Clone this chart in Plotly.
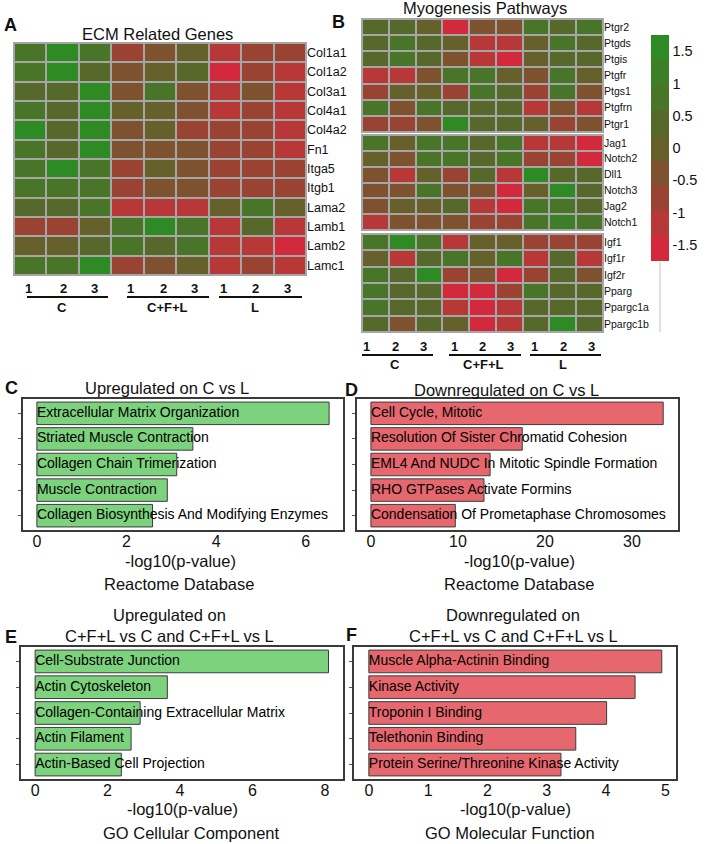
import plotly.graph_objects as go

W, H = 705, 844
FONT = "Arial, Liberation Sans, sans-serif"

# ---------------- data ----------------
samples = ["C-1", "C-2", "C-3", "CFL-1", "CFL-2", "CFL-3", "L-1", "L-2", "L-3"]
sample_nums = ["1", "2", "3", "1", "2", "3", "1", "2", "3"]
groups = ["C", "C+F+L", "L"]

ecm_genes = ["Col1a1", "Col1a2", "Col3a1", "Col4a1", "Col4a2", "Fn1", "Itga5",
             "Itgb1", "Lama2", "Lamb1", "Lamb2", "Lamc1"]
ecm_values = [
    [0.8, 1.6, 0.9, -0.8, -0.4, 0.0, -1.2, -0.8, -0.7],
    [0.8, 1.5, 0.5, -0.4, 0.1, 0.3, -1.6, -0.9, -1.2],
    [0.5, 0.5, 1.5, -0.4, 0.8, -0.4, -1.2, -0.5, -1.2],
    [0.7, 0.2, 1.5, 0.1, 0.1, -0.4, -1.2, -0.9, -1.3],
    [1.4, 0.2, 1.4, -0.4, 0.1, -0.9, -0.9, -0.9, -1.3],
    [0.7, 0.5, 1.4, -0.4, -0.4, -0.4, -0.9, -0.9, -1.3],
    [0.8, 1.5, 0.7, -0.9, 0.1, -0.4, -0.9, -0.9, -0.8],
    [0.9, 0.9, 0.9, -0.9, -0.4, -0.2, -0.9, -0.9, -0.8],
    [0.5, 0.5, 0.9, -1.2, -1.2, -1.2, 0.1, 0.7, 0.1],
    [-0.9, -0.9, 0.1, 0.8, 1.5, 0.6, -1.2, 0.2, -1.2],
    [0.1, -0.1, 0.2, 0.8, 0.4, 0.9, -1.2, -1.2, -1.6],
    [0.8, 0.8, 1.5, -0.9, -0.4, 0.0, -1.2, -0.8, -1.2],
]

ptg_genes = ["Ptgr2", "Ptgds", "Ptgis", "Ptgfr", "Ptgs1", "Ptgfrn", "Ptgr1"]
ptg_values = [
    [0.2, 0.2, 0.1, -1.6, -0.4, -0.4, 0.7, 0.3, 0.6],
    [0.2, 0.6, 0.2, 0.0, -1.2, -1.2, 0.1, 0.6, 0.2],
    [0.2, 0.9, 0.2, -0.4, -1.2, -1.6, 0.1, 0.2, 0.3],
    [-1.2, -1.2, -0.4, 0.6, 0.8, 0.1, -0.4, 0.9, 0.1],
    [-0.9, 0.1, 0.1, -0.9, 0.8, 0.4, -0.9, 0.9, -0.5],
    [0.6, -0.4, 0.9, 0.2, 0.4, 0.2, -1.2, -0.5, -1.1],
    [-0.9, -0.9, -0.5, 1.5, 0.4, 0.2, 0.1, -0.9, -0.5],
]
notch_genes = ["Jag1", "Notch2", "Dll1", "Notch3", "Jag2", "Notch1"]
notch_values = [
    [0.6, 0.1, 0.6, 0.6, 0.2, 0.8, -1.2, -1.2, -1.6],
    [0.1, -0.4, 0.6, 0.6, 0.4, 0.7, -0.9, -0.9, -1.6],
    [-0.5, -1.2, 0.0, -0.8, 0.4, -1.1, 1.5, 0.4, 0.5],
    [-0.5, -0.5, 0.7, -0.5, -0.5, -1.6, 0.1, 1.4, 0.3],
    [-0.4, 0.0, 0.1, 0.2, -1.1, -1.6, 0.6, 0.6, 0.5],
    [-1.3, -0.5, -0.5, -0.5, -0.8, -0.8, 0.8, 1.1, 0.7],
]
igf_genes = ["Igf1", "Igf1r", "Igf2r", "Pparg", "Ppargc1a", "Ppargc1b"]
igf_values = [
    [0.8, 1.4, 0.6, -1.1, 0.1, 0.0, -0.9, -0.9, -0.9],
    [0.0, -1.2, 0.2, 0.7, 0.1, 0.8, -1.2, 0.2, -1.2],
    [0.6, 0.3, 1.4, -0.8, -0.5, -1.6, -0.8, 0.5, -0.4],
    [0.6, 0.4, 0.2, -1.6, -1.6, -0.9, 0.6, 0.5, 0.4],
    [0.6, 0.5, 0.3, -1.1, -1.5, -1.2, 0.3, 0.5, 0.5],
    [0.2, -0.4, 0.3, 0.1, -1.6, -1.2, 0.4, 1.4, 0.3],
]
cbar_ticks = [-1.5, -1, -0.5, 0, 0.5, 1, 1.5]

c_terms = ["Extracellular Matrix Organization", "Striated Muscle Contraction",
           "Collagen Chain Trimerization", "Muscle Contraction",
           "Collagen Biosynthesis And Modifying Enzymes"]
c_values = [6.52, 3.48, 3.12, 2.91, 2.58]
d_terms = ["Cell Cycle, Mitotic", "Resolution Of Sister Chromatid Cohesion",
           "EML4 And NUDC In Mitotic Spindle Formation", "RHO GTPases Activate Formins",
           "Condensation Of Prometaphase Chromosomes"]
d_values = [33.6, 17.4, 13.7, 13.0, 9.7]
e_terms = ["Cell-Substrate Junction", "Actin Cytoskeleton",
           "Collagen-Containing Extracellular Matrix", "Actin Filament",
           "Actin-Based Cell Projection"]
e_values = [8.1, 3.65, 2.9, 2.65, 2.38]
f_terms = ["Muscle Alpha-Actinin Binding", "Kinase Activity", "Troponin I Binding",
           "Telethonin Binding", "Protein Serine/Threonine Kinase Activity"]
f_values = [4.94, 4.49, 4.01, 3.49, 3.24]

# ---------------- helpers ----------------
def X(px):
    return px / W


def Y(py):
    return 1 - py / H


band_colors = ["#D22A3C", "#B83838", "#9A4332", "#7E522E", "#66602B",
               "#56692A", "#497529", "#3C7F27", "#2E8A22"]
ZMIN, ZMAX = -1.75, 1.75
cscale = []
for i, c in enumerate(band_colors):
    cscale.append([i / 9, c])
    cscale.append([(i + 1) / 9, c])

fig = go.Figure()
annotations = []
shapes = []


def heat(z, genes, xa, ya, showscale=False):
    tr = go.Heatmap(z=z, x=samples, y=genes, xaxis=xa, yaxis=ya,
                    colorscale=cscale, zmin=ZMIN, zmax=ZMAX, xgap=2, ygap=2,
                    showscale=showscale, hoverinfo="skip")
    if showscale:
        tr.colorbar = dict(x=X(651), xanchor="left", xpad=0, ypad=0, thickness=18,
                           lenmode="fraction", len=(261 - 35) / H,
                           y=Y((35 + 261) / 2), yanchor="middle",
                           outlinewidth=0, ticks="", tickvals=cbar_ticks,
                           ticktext=[str(t) for t in cbar_ticks],
                           tickfont=dict(size=14.5, family=FONT, color="#111"))
    fig.add_trace(tr)


# Heatmap A
heat(ecm_values, ecm_genes, "x", "y")
# Heatmap B blocks
heat(ptg_values, ptg_genes, "x2", "y2")
heat(notch_values, notch_genes, "x3", "y3")
heat(igf_values, igf_genes, "x4", "y4", showscale=True)

hx_common = dict(showticklabels=False, ticks="", showgrid=False, zeroline=False,
                 showline=False)
hy_common = dict(side="right", autorange="reversed", ticks="", showgrid=False,
                 zeroline=False, showline=False)

lay = dict(
    xaxis=dict(domain=[X(14), X(306)], anchor="y", **hx_common),
    yaxis=dict(domain=[Y(275), Y(43)], anchor="x",
               tickfont=dict(size=12.5, family=FONT, color="#111"), **hy_common),
    xaxis2=dict(domain=[X(362), X(603)], anchor="y2", **hx_common),
    yaxis2=dict(domain=[Y(132), Y(19)], anchor="x2",
                tickfont=dict(size=10.5, family=FONT, color="#111"), **hy_common),
    xaxis3=dict(domain=[X(362), X(603)], anchor="y3", **hx_common),
    yaxis3=dict(domain=[Y(230), Y(135)], anchor="x3",
                tickfont=dict(size=10.5, family=FONT, color="#111"), **hy_common),
    xaxis4=dict(domain=[X(362), X(603)], anchor="y4", **hx_common),
    yaxis4=dict(domain=[Y(332), Y(234)], anchor="x4",
                tickfont=dict(size=10.5, family=FONT, color="#111"), **hy_common),
)

# gray grid backdrops
for (x0, x1, y0, y1) in [(13, 307, 42, 276), (361, 604, 18, 133),
                         (361, 604, 134, 231), (361, 604, 233, 333)]:
    shapes.append(dict(type="rect", xref="paper", yref="paper", x0=X(x0), x1=X(x1),
                       y0=Y(y1), y1=Y(y0), fillcolor="#A6A6A6", line=dict(width=0),
                       layer="below"))
# thin line under colorbar
shapes.append(dict(type="line", xref="paper", yref="paper", x0=X(660), x1=X(660),
                   y0=Y(332), y1=Y(262), line=dict(color="#c4bcc6", width=1)))


def txt(x, y, s, size, bold=False):
    annotations.append(dict(x=X(x), y=Y(y), xref="paper", yref="paper",
                            xanchor="center", yanchor="middle",
                            text=(f"<b>{s}</b>" if bold else s), showarrow=False,
                            font=dict(size=size, family=FONT, color="#111")))


# group labels for heatmaps
def group_labels(num_x, lines, grp_x, y_num, y_line, y_grp):
    for nx, t in zip(num_x, sample_nums):
        txt(nx, y_num, t, 13, True)
    for (a, b) in lines:
        shapes.append(dict(type="line", xref="paper", yref="paper", x0=X(a), x1=X(b),
                           y0=Y(y_line), y1=Y(y_line), line=dict(color="#111", width=2)))
    for gx, g in zip(grp_x, groups):
        txt(gx, y_grp, g, 13, True)


group_labels([29, 63, 94, 130, 163, 194, 223, 255, 287],
             [(27, 108), (127, 209), (219, 302)], [62, 167, 255], 288, 297, 307)
group_labels([366, 395, 423, 454, 482, 510, 534, 563, 591],
             [(362, 433), (449, 521), (530, 601)], [395, 483, 563], 346, 355, 365)

# ---------------- bar panels ----------------
GREEN = "#7DD27D"
RED = "#E6686E"
bar_panels = [
    ("5", c_terms, c_values, GREEN, (23, 343, 399, 530), [0, 2, 4, 6], [-0.31, 6.83]),
    ("6", d_terms, d_values, RED, (357, 678, 399, 530), [0, 10, 20, 30], [-1.6, 35.3]),
    ("7", e_terms, e_values, GREEN, (21, 343, 647, 779), [0, 2, 4, 6, 8], [-0.39, 8.5]),
    ("8", f_terms, f_values, RED, (354, 676, 647, 779), [0, 1, 2, 3, 4, 5], [-0.25, 5.18]),
]
for k, terms, vals, col, (x0, x1, y0, y1), tv, rng in bar_panels:
    xa, ya = "x" + k, "y" + k
    fig.add_trace(go.Bar(x=vals, y=terms, orientation="h", xaxis=xa, yaxis=ya,
                         marker=dict(color=col, line=dict(color="#3c3c3c", width=1)),
                         showlegend=False, hoverinfo="skip"))
    fig.add_trace(go.Scatter(x=[0] * len(terms), y=terms, mode="text", text=terms,
                             textposition="middle right", xaxis=xa, yaxis=ya,
                             textfont=dict(size=14, family=FONT, color="#000"),
                             cliponaxis=False, showlegend=False, hoverinfo="skip"))
    lay["xaxis" + k] = dict(domain=[X(x0), X(x1)], anchor=ya, range=rng, tickvals=tv,
                            showgrid=False, zeroline=False, showline=True, mirror=True,
                            linecolor="#3a3a3a", linewidth=1.5, ticks="",
                            ticklabelstandoff=-4,
                            tickfont=dict(size=16, family=FONT, color="#111"))
    lay["yaxis" + k] = dict(domain=[Y(y1), Y(y0)], anchor=xa, range=[4.56, -0.56],
                            showticklabels=False, showgrid=False, zeroline=False,
                            showline=True, mirror=True, linecolor="#3a3a3a",
                            linewidth=1.5, ticks="outside", ticklen=3,
                            tickcolor="#555")

# ---------------- texts ----------------
txt(10, 25, "A", 18, True)
txt(338, 22, "B", 18, True)
txt(11, 388, "C", 18, True)
txt(351, 390, "D", 18, True)
txt(11, 637, "E", 18, True)
txt(351, 635, "F", 18, True)

txt(157, 34, "ECM Related Genes", 16.5)
txt(485, 8, "Myogenesis Pathways", 16.5)
txt(167, 388, "Upregulated on C vs L", 16.5)
txt(506, 390, "Downregulated on C vs L", 16.5)
txt(169, 615, "Upregulated on", 16.5)
txt(169, 636, "C+F+L vs C and C+F+L vs L", 16.5)
txt(513, 615, "Downregulated on", 16.5)
txt(513, 636, "C+F+L vs C and C+F+L vs L", 16.5)

txt(180, 561, "-log10(p-value)", 16.5)
txt(179, 584, "Reactome Database", 16.5)
txt(519, 561, "-log10(p-value)", 16.5)
txt(519, 584, "Reactome Database", 16.5)
txt(182, 809, "-log10(p-value)", 16.5)
txt(191, 833, "GO Cellular Component", 16.5)
txt(515, 809, "-log10(p-value)", 16.5)
txt(510, 833, "GO Molecular Function", 16.5)

fig.update_layout(
    width=W, height=H, autosize=False,
    margin=dict(l=0, r=0, t=0, b=0, autoexpand=False),
    paper_bgcolor="white", plot_bgcolor="white",
    font=dict(family=FONT, color="#111"),
    showlegend=False, bargap=0.12,
    annotations=annotations, shapes=shapes,
    **lay,
)

fig.write_html("out.html", config={"displayModeBar": False},
               post_script="document.body.style.margin='0';document.body.style.overflow='hidden';")
